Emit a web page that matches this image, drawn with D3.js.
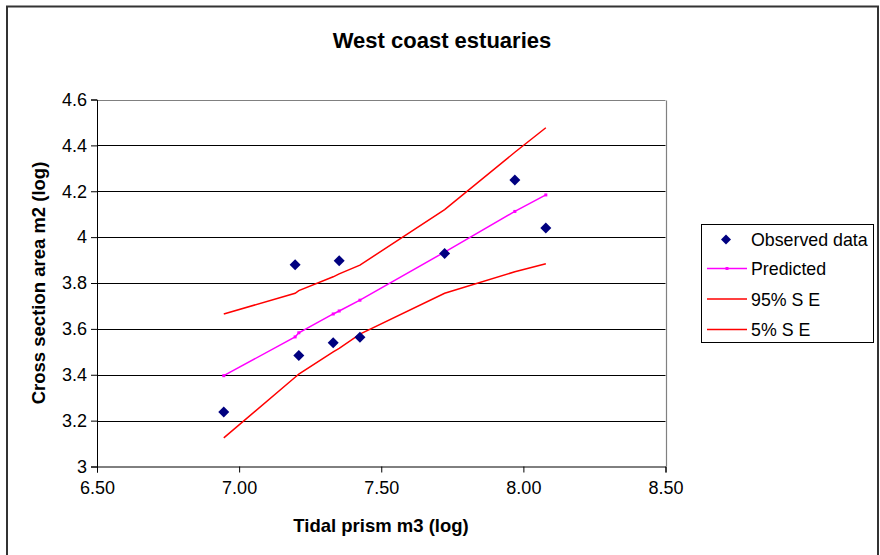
<!DOCTYPE html>
<html>
<head>
<meta charset="utf-8">
<script src="https://cdn.jsdelivr.net/npm/d3@7"></script>
<style>
  html, body { margin: 0; padding: 0; background: #fff; }
  svg { display: block; font-family: "Liberation Sans", Arial, sans-serif; }
</style>
</head>
<body>
<svg id="chart" width="880" height="555"></svg>
<script>
// ---- data ----
const title = "West coast estuaries";
const xTitle = "Tidal prism m3 (log)";
const yTitle = "Cross section area m2 (log)";

const obsX = [6.946, 7.197, 7.352, 7.210, 7.331, 7.425, 7.723, 7.970, 8.079];
const obsY = [3.238, 3.880, 3.897, 3.484, 3.539, 3.564, 3.929, 4.249, 4.040];

const lineX     = [6.946, 7.197, 7.210, 7.331, 7.352, 7.425, 7.723, 7.970, 8.079];
const predicted = [3.396, 3.565, 3.583, 3.665, 3.678, 3.725, 3.935, 4.112, 4.184];
const upper95   = [3.665, 3.755, 3.767, 3.827, 3.840, 3.878, 4.120, 4.370, 4.477];
const lower5    = [3.125, 3.389, 3.403, 3.500, 3.515, 3.577, 3.755, 3.849, 3.884];

const xTicks = [6.5, 7.0, 7.5, 8.0, 8.5];
const yTicks = [3, 3.2, 3.4, 3.6, 3.8, 4, 4.2, 4.4, 4.6];

const legendLabels = ["Observed data", "Predicted", "95% S E", "5% S E"];

// ---- layout ----
const svg = d3.select("#chart");
const L = 97, R = 665.5, T = 99.5, B = 466.5;

const x = d3.scaleLinear().domain([6.5, 8.5]).range([L, R]);
const y = d3.scaleLinear().domain([3, 4.6]).range([B, T]);

// outer chart frame
svg.append("path")
  .attr("d", `M7,560 V6.5 H878 V560`)
  .attr("fill", "none").attr("stroke", "#333").attr("stroke-width", 2);

// title
svg.append("text").attr("x", 442).attr("y", 48)
  .attr("text-anchor", "middle").attr("font-weight", "bold").attr("font-size", 22)
  .text(title);

// gridlines
svg.append("g").selectAll("line").data(yTicks.slice(1)).join("line")
  .attr("x1", L).attr("x2", R)
  .attr("y1", d => Math.round(y(d)) + 0.5).attr("y2", d => Math.round(y(d)) + 0.5)
  .attr("stroke", (d, i) => i === yTicks.length - 2 ? "#808080" : "#000")
  .attr("stroke-width", 1);

// right plot border
svg.append("line").attr("x1", Math.round(R) + 0.5).attr("x2", Math.round(R) + 0.5)
  .attr("y1", Math.round(T) + 0.5).attr("y2", B)
  .attr("stroke", "#808080").attr("stroke-width", 1.2);

// axes
const yAxis = d3.axisLeft(y).tickValues(yTicks).tickSizeOuter(0).tickSize(6).tickPadding(4)
  .tickFormat(d => d3.format("")(+d.toFixed(1)));
const gy = svg.append("g").attr("transform", `translate(${L},0)`).call(yAxis);
gy.selectAll("text").attr("font-size", 18).attr("fill", "#000")
  .attr("font-family", "Liberation Sans, Arial, sans-serif");
gy.selectAll("line, path").attr("stroke", "#000");

const xAxis = d3.axisBottom(x).tickValues(xTicks).tickSizeOuter(0).tickSize(6).tickPadding(9)
  .tickFormat(d3.format(".2f"));
const gx = svg.append("g").attr("transform", `translate(0,${B})`).call(xAxis);
gx.selectAll("text").attr("font-size", 18).attr("fill", "#000")
  .attr("font-family", "Liberation Sans, Arial, sans-serif");
gx.selectAll("line, path").attr("stroke", "#000");

// axis titles
svg.append("text").attr("x", 381).attr("y", 532)
  .attr("text-anchor", "middle").attr("font-weight", "bold").attr("font-size", 18.5)
  .text(xTitle);
svg.append("text").attr("transform", `translate(45,${(T + B) / 2}) rotate(-90)`)
  .attr("text-anchor", "middle").attr("font-weight", "bold").attr("font-size", 18.5)
  .text(yTitle);

// lines
const lineGen = arr => d3.line().x((d, i) => x(lineX[i])).y(d => y(d))(arr);
svg.append("path").attr("d", lineGen(upper95)).attr("fill", "none")
  .attr("stroke", "#ff0000").attr("stroke-width", 1.5);
svg.append("path").attr("d", lineGen(lower5)).attr("fill", "none")
  .attr("stroke", "#ff0000").attr("stroke-width", 1.5);
svg.append("path").attr("d", lineGen(predicted)).attr("fill", "none")
  .attr("stroke", "#ff00ff").attr("stroke-width", 1.5);
svg.append("g").selectAll("rect").data(predicted).join("rect")
  .attr("x", (d, i) => x(lineX[i]) - 1.5).attr("y", d => y(d) - 1.5)
  .attr("width", 3).attr("height", 3).attr("fill", "#ff00ff");

// observed points (diamonds)
const diamond = s => `M0,${-s} L${s},0 L0,${s} L${-s},0 Z`;
svg.append("g").selectAll("path").data(obsY).join("path")
  .attr("transform", (d, i) => `translate(${x(obsX[i])},${y(d)})`)
  .attr("d", diamond(5.5)).attr("fill", "#000080");

// legend
const lg = svg.append("g");
lg.append("rect").attr("x", 701.5).attr("y", 224.5).attr("width", 172).attr("height", 118)
  .attr("fill", "#fff").attr("stroke", "#000").attr("stroke-width", 1);
const rowsY = [239.5, 268.5, 299, 329.5];
legendLabels.forEach((lab, i) => {
  const yy = rowsY[i];
  if (i === 0) {
    lg.append("path").attr("transform", `translate(726,${yy})`).attr("d", diamond(5)).attr("fill", "#000080");
  } else {
    const col = i === 1 ? "#ff00ff" : "#ff0000";
    lg.append("line").attr("x1", 707).attr("x2", 747).attr("y1", yy).attr("y2", yy)
      .attr("stroke", col).attr("stroke-width", 1.5);
    if (i === 1) lg.append("rect").attr("x", 725.5).attr("y", yy - 1.5).attr("width", 3).attr("height", 3).attr("fill", col);
  }
  lg.append("text").attr("x", 751).attr("y", yy + 6.5).attr("font-size", 17.8).text(lab);
});
</script>
</body>
</html>
